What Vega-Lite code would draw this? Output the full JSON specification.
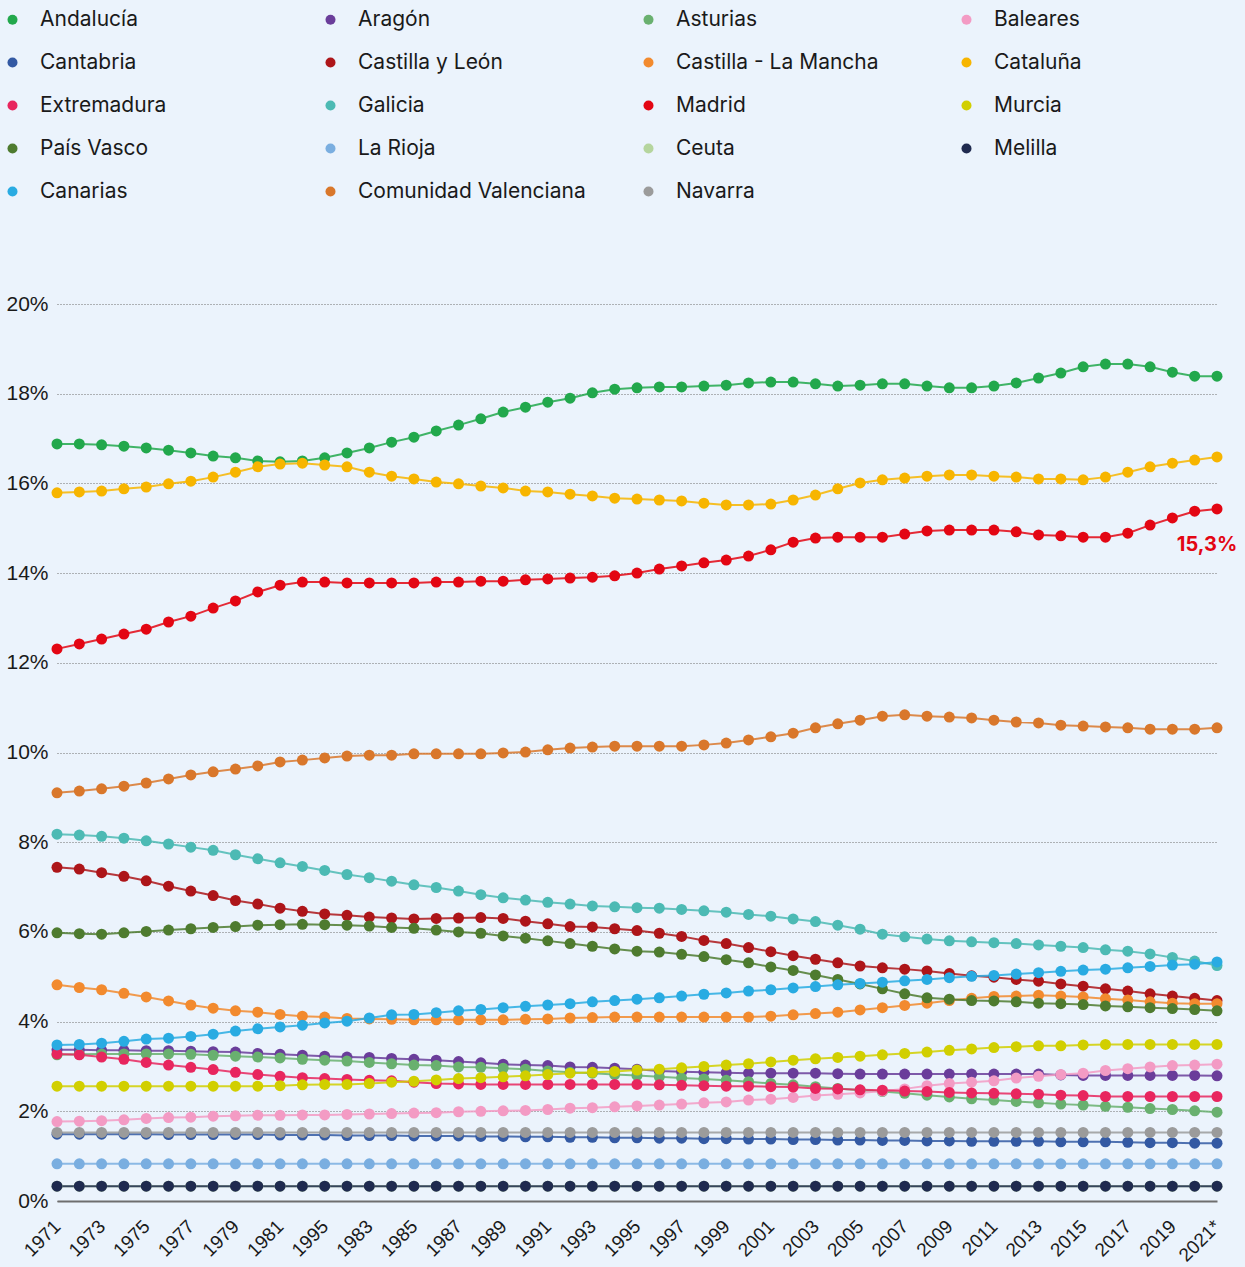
{
"$schema":"https://vega.github.io/schema/vega-lite/v6.json",
"width":1160,"height":897,
"autosize":{"type":"none"},
"padding":{"left":57,"top":304,"right":28,"bottom":66},
"background":"#EBF3FC",
"config":{"view":{"stroke":null},"font":"Inter"},
"datasets":{"share":[
{"region":"Andalucía","year":"1971","pct":16.88},{"region":"Andalucía","year":"1972","pct":16.88},{"region":"Andalucía","year":"1973","pct":16.86},{"region":"Andalucía","year":"1974","pct":16.83},{"region":"Andalucía","year":"1975","pct":16.79},{"region":"Andalucía","year":"1976","pct":16.74},{"region":"Andalucía","year":"1977","pct":16.68},{"region":"Andalucía","year":"1978","pct":16.61},{"region":"Andalucía","year":"1979","pct":16.57},{"region":"Andalucía","year":"1980","pct":16.50},{"region":"Andalucía","year":"1981","pct":16.48},{"region":"Andalucía","year":"1981b","pct":16.50},{"region":"Andalucía","year":"1995b","pct":16.57},{"region":"Andalucía","year":"1982","pct":16.68},{"region":"Andalucía","year":"1983","pct":16.79},{"region":"Andalucía","year":"1984","pct":16.92},{"region":"Andalucía","year":"1985","pct":17.03},{"region":"Andalucía","year":"1986","pct":17.17},{"region":"Andalucía","year":"1987","pct":17.30},{"region":"Andalucía","year":"1988","pct":17.44},{"region":"Andalucía","year":"1989","pct":17.59},{"region":"Andalucía","year":"1990","pct":17.70},{"region":"Andalucía","year":"1991","pct":17.81},{"region":"Andalucía","year":"1992","pct":17.90},{"region":"Andalucía","year":"1993","pct":18.02},{"region":"Andalucía","year":"1994","pct":18.10},{"region":"Andalucía","year":"1995","pct":18.13},{"region":"Andalucía","year":"1996","pct":18.15},{"region":"Andalucía","year":"1997","pct":18.15},{"region":"Andalucía","year":"1998","pct":18.17},{"region":"Andalucía","year":"1999","pct":18.19},{"region":"Andalucía","year":"2000","pct":18.24},{"region":"Andalucía","year":"2001","pct":18.26},{"region":"Andalucía","year":"2002","pct":18.26},{"region":"Andalucía","year":"2003","pct":18.22},{"region":"Andalucía","year":"2004","pct":18.17},{"region":"Andalucía","year":"2005","pct":18.19},{"region":"Andalucía","year":"2006","pct":18.22},{"region":"Andalucía","year":"2007","pct":18.22},{"region":"Andalucía","year":"2008","pct":18.17},{"region":"Andalucía","year":"2009","pct":18.13},{"region":"Andalucía","year":"2010","pct":18.13},{"region":"Andalucía","year":"2011","pct":18.17},{"region":"Andalucía","year":"2012","pct":18.24},{"region":"Andalucía","year":"2013","pct":18.35},{"region":"Andalucía","year":"2014","pct":18.46},{"region":"Andalucía","year":"2015","pct":18.60},{"region":"Andalucía","year":"2016","pct":18.66},{"region":"Andalucía","year":"2017","pct":18.66},{"region":"Andalucía","year":"2018","pct":18.60},{"region":"Andalucía","year":"2019","pct":18.48},{"region":"Andalucía","year":"2020","pct":18.39},{"region":"Andalucía","year":"2021*","pct":18.39},
{"region":"Aragón","year":"1971","pct":3.37},{"region":"Aragón","year":"1972","pct":3.37},{"region":"Aragón","year":"1973","pct":3.36},{"region":"Aragón","year":"1974","pct":3.36},{"region":"Aragón","year":"1975","pct":3.35},{"region":"Aragón","year":"1976","pct":3.35},{"region":"Aragón","year":"1977","pct":3.34},{"region":"Aragón","year":"1978","pct":3.33},{"region":"Aragón","year":"1979","pct":3.32},{"region":"Aragón","year":"1980","pct":3.29},{"region":"Aragón","year":"1981","pct":3.27},{"region":"Aragón","year":"1981b","pct":3.25},{"region":"Aragón","year":"1995b","pct":3.23},{"region":"Aragón","year":"1982","pct":3.21},{"region":"Aragón","year":"1983","pct":3.20},{"region":"Aragón","year":"1984","pct":3.18},{"region":"Aragón","year":"1985","pct":3.16},{"region":"Aragón","year":"1986","pct":3.14},{"region":"Aragón","year":"1987","pct":3.11},{"region":"Aragón","year":"1988","pct":3.08},{"region":"Aragón","year":"1989","pct":3.05},{"region":"Aragón","year":"1990","pct":3.03},{"region":"Aragón","year":"1991","pct":3.02},{"region":"Aragón","year":"1992","pct":2.99},{"region":"Aragón","year":"1993","pct":2.98},{"region":"Aragón","year":"1994","pct":2.96},{"region":"Aragón","year":"1995","pct":2.94},{"region":"Aragón","year":"1996","pct":2.90},{"region":"Aragón","year":"1997","pct":2.88},{"region":"Aragón","year":"1998","pct":2.87},{"region":"Aragón","year":"1999","pct":2.86},{"region":"Aragón","year":"2000","pct":2.85},{"region":"Aragón","year":"2001","pct":2.85},{"region":"Aragón","year":"2002","pct":2.85},{"region":"Aragón","year":"2003","pct":2.85},{"region":"Aragón","year":"2004","pct":2.84},{"region":"Aragón","year":"2005","pct":2.83},{"region":"Aragón","year":"2006","pct":2.83},{"region":"Aragón","year":"2007","pct":2.83},{"region":"Aragón","year":"2008","pct":2.83},{"region":"Aragón","year":"2009","pct":2.83},{"region":"Aragón","year":"2010","pct":2.83},{"region":"Aragón","year":"2011","pct":2.83},{"region":"Aragón","year":"2012","pct":2.83},{"region":"Aragón","year":"2013","pct":2.83},{"region":"Aragón","year":"2014","pct":2.81},{"region":"Aragón","year":"2015","pct":2.80},{"region":"Aragón","year":"2016","pct":2.80},{"region":"Aragón","year":"2017","pct":2.80},{"region":"Aragón","year":"2018","pct":2.80},{"region":"Aragón","year":"2019","pct":2.80},{"region":"Aragón","year":"2020","pct":2.80},{"region":"Aragón","year":"2021*","pct":2.79},
{"region":"Asturias","year":"1971","pct":3.26},{"region":"Asturias","year":"1972","pct":3.27},{"region":"Asturias","year":"1973","pct":3.28},{"region":"Asturias","year":"1974","pct":3.28},{"region":"Asturias","year":"1975","pct":3.28},{"region":"Asturias","year":"1976","pct":3.28},{"region":"Asturias","year":"1977","pct":3.27},{"region":"Asturias","year":"1978","pct":3.25},{"region":"Asturias","year":"1979","pct":3.23},{"region":"Asturias","year":"1980","pct":3.21},{"region":"Asturias","year":"1981","pct":3.19},{"region":"Asturias","year":"1981b","pct":3.16},{"region":"Asturias","year":"1995b","pct":3.14},{"region":"Asturias","year":"1982","pct":3.12},{"region":"Asturias","year":"1983","pct":3.09},{"region":"Asturias","year":"1984","pct":3.06},{"region":"Asturias","year":"1985","pct":3.03},{"region":"Asturias","year":"1986","pct":3.02},{"region":"Asturias","year":"1987","pct":2.99},{"region":"Asturias","year":"1988","pct":2.98},{"region":"Asturias","year":"1989","pct":2.96},{"region":"Asturias","year":"1990","pct":2.94},{"region":"Asturias","year":"1991","pct":2.90},{"region":"Asturias","year":"1992","pct":2.87},{"region":"Asturias","year":"1993","pct":2.85},{"region":"Asturias","year":"1994","pct":2.82},{"region":"Asturias","year":"1995","pct":2.80},{"region":"Asturias","year":"1996","pct":2.77},{"region":"Asturias","year":"1997","pct":2.74},{"region":"Asturias","year":"1998","pct":2.72},{"region":"Asturias","year":"1999","pct":2.69},{"region":"Asturias","year":"2000","pct":2.66},{"region":"Asturias","year":"2001","pct":2.62},{"region":"Asturias","year":"2002","pct":2.59},{"region":"Asturias","year":"2003","pct":2.55},{"region":"Asturias","year":"2004","pct":2.51},{"region":"Asturias","year":"2005","pct":2.47},{"region":"Asturias","year":"2006","pct":2.44},{"region":"Asturias","year":"2007","pct":2.40},{"region":"Asturias","year":"2008","pct":2.36},{"region":"Asturias","year":"2009","pct":2.32},{"region":"Asturias","year":"2010","pct":2.28},{"region":"Asturias","year":"2011","pct":2.25},{"region":"Asturias","year":"2012","pct":2.22},{"region":"Asturias","year":"2013","pct":2.19},{"region":"Asturias","year":"2014","pct":2.16},{"region":"Asturias","year":"2015","pct":2.14},{"region":"Asturias","year":"2016","pct":2.11},{"region":"Asturias","year":"2017","pct":2.09},{"region":"Asturias","year":"2018","pct":2.06},{"region":"Asturias","year":"2019","pct":2.04},{"region":"Asturias","year":"2020","pct":2.01},{"region":"Asturias","year":"2021*","pct":1.98},
{"region":"Baleares","year":"1971","pct":1.77},{"region":"Baleares","year":"1972","pct":1.78},{"region":"Baleares","year":"1973","pct":1.79},{"region":"Baleares","year":"1974","pct":1.81},{"region":"Baleares","year":"1975","pct":1.84},{"region":"Baleares","year":"1976","pct":1.86},{"region":"Baleares","year":"1977","pct":1.87},{"region":"Baleares","year":"1978","pct":1.89},{"region":"Baleares","year":"1979","pct":1.90},{"region":"Baleares","year":"1980","pct":1.91},{"region":"Baleares","year":"1981","pct":1.91},{"region":"Baleares","year":"1981b","pct":1.92},{"region":"Baleares","year":"1995b","pct":1.92},{"region":"Baleares","year":"1982","pct":1.93},{"region":"Baleares","year":"1983","pct":1.94},{"region":"Baleares","year":"1984","pct":1.95},{"region":"Baleares","year":"1985","pct":1.96},{"region":"Baleares","year":"1986","pct":1.97},{"region":"Baleares","year":"1987","pct":1.99},{"region":"Baleares","year":"1988","pct":2.00},{"region":"Baleares","year":"1989","pct":2.01},{"region":"Baleares","year":"1990","pct":2.02},{"region":"Baleares","year":"1991","pct":2.04},{"region":"Baleares","year":"1992","pct":2.07},{"region":"Baleares","year":"1993","pct":2.08},{"region":"Baleares","year":"1994","pct":2.10},{"region":"Baleares","year":"1995","pct":2.12},{"region":"Baleares","year":"1996","pct":2.14},{"region":"Baleares","year":"1997","pct":2.16},{"region":"Baleares","year":"1998","pct":2.19},{"region":"Baleares","year":"1999","pct":2.21},{"region":"Baleares","year":"2000","pct":2.25},{"region":"Baleares","year":"2001","pct":2.27},{"region":"Baleares","year":"2002","pct":2.31},{"region":"Baleares","year":"2003","pct":2.35},{"region":"Baleares","year":"2004","pct":2.38},{"region":"Baleares","year":"2005","pct":2.41},{"region":"Baleares","year":"2006","pct":2.45},{"region":"Baleares","year":"2007","pct":2.50},{"region":"Baleares","year":"2008","pct":2.57},{"region":"Baleares","year":"2009","pct":2.62},{"region":"Baleares","year":"2010","pct":2.65},{"region":"Baleares","year":"2011","pct":2.68},{"region":"Baleares","year":"2012","pct":2.74},{"region":"Baleares","year":"2013","pct":2.78},{"region":"Baleares","year":"2014","pct":2.82},{"region":"Baleares","year":"2015","pct":2.85},{"region":"Baleares","year":"2016","pct":2.91},{"region":"Baleares","year":"2017","pct":2.95},{"region":"Baleares","year":"2018","pct":2.99},{"region":"Baleares","year":"2019","pct":3.02},{"region":"Baleares","year":"2020","pct":3.03},{"region":"Baleares","year":"2021*","pct":3.05},
{"region":"Cantabria","year":"1971","pct":1.49},{"region":"Cantabria","year":"1972","pct":1.49},{"region":"Cantabria","year":"1973","pct":1.49},{"region":"Cantabria","year":"1974","pct":1.49},{"region":"Cantabria","year":"1975","pct":1.49},{"region":"Cantabria","year":"1976","pct":1.48},{"region":"Cantabria","year":"1977","pct":1.48},{"region":"Cantabria","year":"1978","pct":1.48},{"region":"Cantabria","year":"1979","pct":1.48},{"region":"Cantabria","year":"1980","pct":1.48},{"region":"Cantabria","year":"1981","pct":1.47},{"region":"Cantabria","year":"1981b","pct":1.47},{"region":"Cantabria","year":"1995b","pct":1.47},{"region":"Cantabria","year":"1982","pct":1.46},{"region":"Cantabria","year":"1983","pct":1.46},{"region":"Cantabria","year":"1984","pct":1.46},{"region":"Cantabria","year":"1985","pct":1.45},{"region":"Cantabria","year":"1986","pct":1.45},{"region":"Cantabria","year":"1987","pct":1.45},{"region":"Cantabria","year":"1988","pct":1.44},{"region":"Cantabria","year":"1989","pct":1.44},{"region":"Cantabria","year":"1990","pct":1.43},{"region":"Cantabria","year":"1991","pct":1.43},{"region":"Cantabria","year":"1992","pct":1.42},{"region":"Cantabria","year":"1993","pct":1.42},{"region":"Cantabria","year":"1994","pct":1.41},{"region":"Cantabria","year":"1995","pct":1.41},{"region":"Cantabria","year":"1996","pct":1.40},{"region":"Cantabria","year":"1997","pct":1.40},{"region":"Cantabria","year":"1998","pct":1.39},{"region":"Cantabria","year":"1999","pct":1.39},{"region":"Cantabria","year":"2000","pct":1.38},{"region":"Cantabria","year":"2001","pct":1.38},{"region":"Cantabria","year":"2002","pct":1.37},{"region":"Cantabria","year":"2003","pct":1.37},{"region":"Cantabria","year":"2004","pct":1.36},{"region":"Cantabria","year":"2005","pct":1.36},{"region":"Cantabria","year":"2006","pct":1.35},{"region":"Cantabria","year":"2007","pct":1.35},{"region":"Cantabria","year":"2008","pct":1.34},{"region":"Cantabria","year":"2009","pct":1.34},{"region":"Cantabria","year":"2010","pct":1.33},{"region":"Cantabria","year":"2011","pct":1.33},{"region":"Cantabria","year":"2012","pct":1.33},{"region":"Cantabria","year":"2013","pct":1.33},{"region":"Cantabria","year":"2014","pct":1.32},{"region":"Cantabria","year":"2015","pct":1.32},{"region":"Cantabria","year":"2016","pct":1.32},{"region":"Cantabria","year":"2017","pct":1.31},{"region":"Cantabria","year":"2018","pct":1.30},{"region":"Cantabria","year":"2019","pct":1.30},{"region":"Cantabria","year":"2020","pct":1.29},{"region":"Cantabria","year":"2021*","pct":1.29},
{"region":"Castilla y León","year":"1971","pct":7.44},{"region":"Castilla y León","year":"1972","pct":7.40},{"region":"Castilla y León","year":"1973","pct":7.32},{"region":"Castilla y León","year":"1974","pct":7.24},{"region":"Castilla y León","year":"1975","pct":7.14},{"region":"Castilla y León","year":"1976","pct":7.02},{"region":"Castilla y León","year":"1977","pct":6.91},{"region":"Castilla y León","year":"1978","pct":6.81},{"region":"Castilla y León","year":"1979","pct":6.70},{"region":"Castilla y León","year":"1980","pct":6.62},{"region":"Castilla y León","year":"1981","pct":6.53},{"region":"Castilla y León","year":"1981b","pct":6.46},{"region":"Castilla y León","year":"1995b","pct":6.40},{"region":"Castilla y León","year":"1982","pct":6.37},{"region":"Castilla y León","year":"1983","pct":6.33},{"region":"Castilla y León","year":"1984","pct":6.31},{"region":"Castilla y León","year":"1985","pct":6.29},{"region":"Castilla y León","year":"1986","pct":6.30},{"region":"Castilla y León","year":"1987","pct":6.31},{"region":"Castilla y León","year":"1988","pct":6.32},{"region":"Castilla y León","year":"1989","pct":6.30},{"region":"Castilla y León","year":"1990","pct":6.24},{"region":"Castilla y León","year":"1991","pct":6.18},{"region":"Castilla y León","year":"1992","pct":6.12},{"region":"Castilla y León","year":"1993","pct":6.11},{"region":"Castilla y León","year":"1994","pct":6.07},{"region":"Castilla y León","year":"1995","pct":6.03},{"region":"Castilla y León","year":"1996","pct":5.97},{"region":"Castilla y León","year":"1997","pct":5.90},{"region":"Castilla y León","year":"1998","pct":5.81},{"region":"Castilla y León","year":"1999","pct":5.74},{"region":"Castilla y León","year":"2000","pct":5.65},{"region":"Castilla y León","year":"2001","pct":5.56},{"region":"Castilla y León","year":"2002","pct":5.47},{"region":"Castilla y León","year":"2003","pct":5.39},{"region":"Castilla y León","year":"2004","pct":5.31},{"region":"Castilla y León","year":"2005","pct":5.24},{"region":"Castilla y León","year":"2006","pct":5.20},{"region":"Castilla y León","year":"2007","pct":5.17},{"region":"Castilla y León","year":"2008","pct":5.13},{"region":"Castilla y León","year":"2009","pct":5.07},{"region":"Castilla y León","year":"2010","pct":5.02},{"region":"Castilla y León","year":"2011","pct":4.99},{"region":"Castilla y León","year":"2012","pct":4.94},{"region":"Castilla y León","year":"2013","pct":4.90},{"region":"Castilla y León","year":"2014","pct":4.84},{"region":"Castilla y León","year":"2015","pct":4.79},{"region":"Castilla y León","year":"2016","pct":4.73},{"region":"Castilla y León","year":"2017","pct":4.68},{"region":"Castilla y León","year":"2018","pct":4.62},{"region":"Castilla y León","year":"2019","pct":4.57},{"region":"Castilla y León","year":"2020","pct":4.52},{"region":"Castilla y León","year":"2021*","pct":4.47},
{"region":"Castilla - La Mancha","year":"1971","pct":4.82},{"region":"Castilla - La Mancha","year":"1972","pct":4.76},{"region":"Castilla - La Mancha","year":"1973","pct":4.71},{"region":"Castilla - La Mancha","year":"1974","pct":4.63},{"region":"Castilla - La Mancha","year":"1975","pct":4.55},{"region":"Castilla - La Mancha","year":"1976","pct":4.46},{"region":"Castilla - La Mancha","year":"1977","pct":4.37},{"region":"Castilla - La Mancha","year":"1978","pct":4.30},{"region":"Castilla - La Mancha","year":"1979","pct":4.24},{"region":"Castilla - La Mancha","year":"1980","pct":4.21},{"region":"Castilla - La Mancha","year":"1981","pct":4.16},{"region":"Castilla - La Mancha","year":"1981b","pct":4.12},{"region":"Castilla - La Mancha","year":"1995b","pct":4.10},{"region":"Castilla - La Mancha","year":"1982","pct":4.07},{"region":"Castilla - La Mancha","year":"1983","pct":4.06},{"region":"Castilla - La Mancha","year":"1984","pct":4.05},{"region":"Castilla - La Mancha","year":"1985","pct":4.04},{"region":"Castilla - La Mancha","year":"1986","pct":4.04},{"region":"Castilla - La Mancha","year":"1987","pct":4.04},{"region":"Castilla - La Mancha","year":"1988","pct":4.04},{"region":"Castilla - La Mancha","year":"1989","pct":4.04},{"region":"Castilla - La Mancha","year":"1990","pct":4.05},{"region":"Castilla - La Mancha","year":"1991","pct":4.06},{"region":"Castilla - La Mancha","year":"1992","pct":4.08},{"region":"Castilla - La Mancha","year":"1993","pct":4.09},{"region":"Castilla - La Mancha","year":"1994","pct":4.10},{"region":"Castilla - La Mancha","year":"1995","pct":4.10},{"region":"Castilla - La Mancha","year":"1996","pct":4.10},{"region":"Castilla - La Mancha","year":"1997","pct":4.10},{"region":"Castilla - La Mancha","year":"1998","pct":4.10},{"region":"Castilla - La Mancha","year":"1999","pct":4.10},{"region":"Castilla - La Mancha","year":"2000","pct":4.10},{"region":"Castilla - La Mancha","year":"2001","pct":4.12},{"region":"Castilla - La Mancha","year":"2002","pct":4.15},{"region":"Castilla - La Mancha","year":"2003","pct":4.18},{"region":"Castilla - La Mancha","year":"2004","pct":4.21},{"region":"Castilla - La Mancha","year":"2005","pct":4.26},{"region":"Castilla - La Mancha","year":"2006","pct":4.31},{"region":"Castilla - La Mancha","year":"2007","pct":4.36},{"region":"Castilla - La Mancha","year":"2008","pct":4.41},{"region":"Castilla - La Mancha","year":"2009","pct":4.47},{"region":"Castilla - La Mancha","year":"2010","pct":4.52},{"region":"Castilla - La Mancha","year":"2011","pct":4.56},{"region":"Castilla - La Mancha","year":"2012","pct":4.57},{"region":"Castilla - La Mancha","year":"2013","pct":4.59},{"region":"Castilla - La Mancha","year":"2014","pct":4.57},{"region":"Castilla - La Mancha","year":"2015","pct":4.55},{"region":"Castilla - La Mancha","year":"2016","pct":4.51},{"region":"Castilla - La Mancha","year":"2017","pct":4.48},{"region":"Castilla - La Mancha","year":"2018","pct":4.44},{"region":"Castilla - La Mancha","year":"2019","pct":4.41},{"region":"Castilla - La Mancha","year":"2020","pct":4.40},{"region":"Castilla - La Mancha","year":"2021*","pct":4.40},
{"region":"Cataluña","year":"1971","pct":15.79},{"region":"Cataluña","year":"1972","pct":15.81},{"region":"Cataluña","year":"1973","pct":15.83},{"region":"Cataluña","year":"1974","pct":15.88},{"region":"Cataluña","year":"1975","pct":15.92},{"region":"Cataluña","year":"1976","pct":15.99},{"region":"Cataluña","year":"1977","pct":16.05},{"region":"Cataluña","year":"1978","pct":16.14},{"region":"Cataluña","year":"1979","pct":16.25},{"region":"Cataluña","year":"1980","pct":16.37},{"region":"Cataluña","year":"1981","pct":16.43},{"region":"Cataluña","year":"1981b","pct":16.45},{"region":"Cataluña","year":"1995b","pct":16.41},{"region":"Cataluña","year":"1982","pct":16.37},{"region":"Cataluña","year":"1983","pct":16.25},{"region":"Cataluña","year":"1984","pct":16.16},{"region":"Cataluña","year":"1985","pct":16.10},{"region":"Cataluña","year":"1986","pct":16.03},{"region":"Cataluña","year":"1987","pct":15.99},{"region":"Cataluña","year":"1988","pct":15.94},{"region":"Cataluña","year":"1989","pct":15.90},{"region":"Cataluña","year":"1990","pct":15.83},{"region":"Cataluña","year":"1991","pct":15.81},{"region":"Cataluña","year":"1992","pct":15.76},{"region":"Cataluña","year":"1993","pct":15.72},{"region":"Cataluña","year":"1994","pct":15.67},{"region":"Cataluña","year":"1995","pct":15.65},{"region":"Cataluña","year":"1996","pct":15.63},{"region":"Cataluña","year":"1997","pct":15.61},{"region":"Cataluña","year":"1998","pct":15.56},{"region":"Cataluña","year":"1999","pct":15.52},{"region":"Cataluña","year":"2000","pct":15.52},{"region":"Cataluña","year":"2001","pct":15.54},{"region":"Cataluña","year":"2002","pct":15.63},{"region":"Cataluña","year":"2003","pct":15.74},{"region":"Cataluña","year":"2004","pct":15.88},{"region":"Cataluña","year":"2005","pct":16.01},{"region":"Cataluña","year":"2006","pct":16.08},{"region":"Cataluña","year":"2007","pct":16.12},{"region":"Cataluña","year":"2008","pct":16.16},{"region":"Cataluña","year":"2009","pct":16.19},{"region":"Cataluña","year":"2010","pct":16.19},{"region":"Cataluña","year":"2011","pct":16.16},{"region":"Cataluña","year":"2012","pct":16.14},{"region":"Cataluña","year":"2013","pct":16.10},{"region":"Cataluña","year":"2014","pct":16.10},{"region":"Cataluña","year":"2015","pct":16.08},{"region":"Cataluña","year":"2016","pct":16.14},{"region":"Cataluña","year":"2017","pct":16.25},{"region":"Cataluña","year":"2018","pct":16.37},{"region":"Cataluña","year":"2019","pct":16.45},{"region":"Cataluña","year":"2020","pct":16.52},{"region":"Cataluña","year":"2021*","pct":16.59},
{"region":"Extremadura","year":"1971","pct":3.28},{"region":"Extremadura","year":"1972","pct":3.26},{"region":"Extremadura","year":"1973","pct":3.21},{"region":"Extremadura","year":"1974","pct":3.16},{"region":"Extremadura","year":"1975","pct":3.09},{"region":"Extremadura","year":"1976","pct":3.03},{"region":"Extremadura","year":"1977","pct":2.98},{"region":"Extremadura","year":"1978","pct":2.93},{"region":"Extremadura","year":"1979","pct":2.87},{"region":"Extremadura","year":"1980","pct":2.82},{"region":"Extremadura","year":"1981","pct":2.78},{"region":"Extremadura","year":"1981b","pct":2.75},{"region":"Extremadura","year":"1995b","pct":2.73},{"region":"Extremadura","year":"1982","pct":2.71},{"region":"Extremadura","year":"1983","pct":2.69},{"region":"Extremadura","year":"1984","pct":2.68},{"region":"Extremadura","year":"1985","pct":2.65},{"region":"Extremadura","year":"1986","pct":2.62},{"region":"Extremadura","year":"1987","pct":2.61},{"region":"Extremadura","year":"1988","pct":2.60},{"region":"Extremadura","year":"1989","pct":2.60},{"region":"Extremadura","year":"1990","pct":2.60},{"region":"Extremadura","year":"1991","pct":2.60},{"region":"Extremadura","year":"1992","pct":2.60},{"region":"Extremadura","year":"1993","pct":2.60},{"region":"Extremadura","year":"1994","pct":2.60},{"region":"Extremadura","year":"1995","pct":2.60},{"region":"Extremadura","year":"1996","pct":2.59},{"region":"Extremadura","year":"1997","pct":2.58},{"region":"Extremadura","year":"1998","pct":2.57},{"region":"Extremadura","year":"1999","pct":2.56},{"region":"Extremadura","year":"2000","pct":2.56},{"region":"Extremadura","year":"2001","pct":2.55},{"region":"Extremadura","year":"2002","pct":2.54},{"region":"Extremadura","year":"2003","pct":2.51},{"region":"Extremadura","year":"2004","pct":2.50},{"region":"Extremadura","year":"2005","pct":2.48},{"region":"Extremadura","year":"2006","pct":2.47},{"region":"Extremadura","year":"2007","pct":2.45},{"region":"Extremadura","year":"2008","pct":2.44},{"region":"Extremadura","year":"2009","pct":2.42},{"region":"Extremadura","year":"2010","pct":2.41},{"region":"Extremadura","year":"2011","pct":2.40},{"region":"Extremadura","year":"2012","pct":2.39},{"region":"Extremadura","year":"2013","pct":2.38},{"region":"Extremadura","year":"2014","pct":2.36},{"region":"Extremadura","year":"2015","pct":2.35},{"region":"Extremadura","year":"2016","pct":2.33},{"region":"Extremadura","year":"2017","pct":2.33},{"region":"Extremadura","year":"2018","pct":2.33},{"region":"Extremadura","year":"2019","pct":2.33},{"region":"Extremadura","year":"2020","pct":2.33},{"region":"Extremadura","year":"2021*","pct":2.33},
{"region":"Galicia","year":"1971","pct":8.18},{"region":"Galicia","year":"1972","pct":8.16},{"region":"Galicia","year":"1973","pct":8.13},{"region":"Galicia","year":"1974","pct":8.09},{"region":"Galicia","year":"1975","pct":8.03},{"region":"Galicia","year":"1976","pct":7.96},{"region":"Galicia","year":"1977","pct":7.89},{"region":"Galicia","year":"1978","pct":7.82},{"region":"Galicia","year":"1979","pct":7.72},{"region":"Galicia","year":"1980","pct":7.63},{"region":"Galicia","year":"1981","pct":7.54},{"region":"Galicia","year":"1981b","pct":7.46},{"region":"Galicia","year":"1995b","pct":7.37},{"region":"Galicia","year":"1982","pct":7.28},{"region":"Galicia","year":"1983","pct":7.21},{"region":"Galicia","year":"1984","pct":7.13},{"region":"Galicia","year":"1985","pct":7.05},{"region":"Galicia","year":"1986","pct":6.99},{"region":"Galicia","year":"1987","pct":6.91},{"region":"Galicia","year":"1988","pct":6.83},{"region":"Galicia","year":"1989","pct":6.76},{"region":"Galicia","year":"1990","pct":6.71},{"region":"Galicia","year":"1991","pct":6.66},{"region":"Galicia","year":"1992","pct":6.62},{"region":"Galicia","year":"1993","pct":6.58},{"region":"Galicia","year":"1994","pct":6.56},{"region":"Galicia","year":"1995","pct":6.54},{"region":"Galicia","year":"1996","pct":6.53},{"region":"Galicia","year":"1997","pct":6.50},{"region":"Galicia","year":"1998","pct":6.47},{"region":"Galicia","year":"1999","pct":6.44},{"region":"Galicia","year":"2000","pct":6.39},{"region":"Galicia","year":"2001","pct":6.35},{"region":"Galicia","year":"2002","pct":6.29},{"region":"Galicia","year":"2003","pct":6.23},{"region":"Galicia","year":"2004","pct":6.15},{"region":"Galicia","year":"2005","pct":6.06},{"region":"Galicia","year":"2006","pct":5.95},{"region":"Galicia","year":"2007","pct":5.89},{"region":"Galicia","year":"2008","pct":5.84},{"region":"Galicia","year":"2009","pct":5.80},{"region":"Galicia","year":"2010","pct":5.78},{"region":"Galicia","year":"2011","pct":5.76},{"region":"Galicia","year":"2012","pct":5.74},{"region":"Galicia","year":"2013","pct":5.71},{"region":"Galicia","year":"2014","pct":5.68},{"region":"Galicia","year":"2015","pct":5.65},{"region":"Galicia","year":"2016","pct":5.60},{"region":"Galicia","year":"2017","pct":5.57},{"region":"Galicia","year":"2018","pct":5.51},{"region":"Galicia","year":"2019","pct":5.43},{"region":"Galicia","year":"2020","pct":5.35},{"region":"Galicia","year":"2021*","pct":5.25},
{"region":"Madrid","year":"1971","pct":12.31},{"region":"Madrid","year":"1972","pct":12.42},{"region":"Madrid","year":"1973","pct":12.53},{"region":"Madrid","year":"1974","pct":12.64},{"region":"Madrid","year":"1975","pct":12.75},{"region":"Madrid","year":"1976","pct":12.91},{"region":"Madrid","year":"1977","pct":13.04},{"region":"Madrid","year":"1978","pct":13.22},{"region":"Madrid","year":"1979","pct":13.38},{"region":"Madrid","year":"1980","pct":13.58},{"region":"Madrid","year":"1981","pct":13.73},{"region":"Madrid","year":"1981b","pct":13.80},{"region":"Madrid","year":"1995b","pct":13.80},{"region":"Madrid","year":"1982","pct":13.78},{"region":"Madrid","year":"1983","pct":13.78},{"region":"Madrid","year":"1984","pct":13.78},{"region":"Madrid","year":"1985","pct":13.78},{"region":"Madrid","year":"1986","pct":13.80},{"region":"Madrid","year":"1987","pct":13.80},{"region":"Madrid","year":"1988","pct":13.82},{"region":"Madrid","year":"1989","pct":13.82},{"region":"Madrid","year":"1990","pct":13.85},{"region":"Madrid","year":"1991","pct":13.87},{"region":"Madrid","year":"1992","pct":13.89},{"region":"Madrid","year":"1993","pct":13.91},{"region":"Madrid","year":"1994","pct":13.94},{"region":"Madrid","year":"1995","pct":14.00},{"region":"Madrid","year":"1996","pct":14.09},{"region":"Madrid","year":"1997","pct":14.16},{"region":"Madrid","year":"1998","pct":14.23},{"region":"Madrid","year":"1999","pct":14.29},{"region":"Madrid","year":"2000","pct":14.38},{"region":"Madrid","year":"2001","pct":14.52},{"region":"Madrid","year":"2002","pct":14.69},{"region":"Madrid","year":"2003","pct":14.78},{"region":"Madrid","year":"2004","pct":14.80},{"region":"Madrid","year":"2005","pct":14.80},{"region":"Madrid","year":"2006","pct":14.80},{"region":"Madrid","year":"2007","pct":14.87},{"region":"Madrid","year":"2008","pct":14.94},{"region":"Madrid","year":"2009","pct":14.96},{"region":"Madrid","year":"2010","pct":14.96},{"region":"Madrid","year":"2011","pct":14.96},{"region":"Madrid","year":"2012","pct":14.92},{"region":"Madrid","year":"2013","pct":14.85},{"region":"Madrid","year":"2014","pct":14.83},{"region":"Madrid","year":"2015","pct":14.80},{"region":"Madrid","year":"2016","pct":14.80},{"region":"Madrid","year":"2017","pct":14.89},{"region":"Madrid","year":"2018","pct":15.07},{"region":"Madrid","year":"2019","pct":15.23},{"region":"Madrid","year":"2020","pct":15.38},{"region":"Madrid","year":"2021*","pct":15.43},
{"region":"Murcia","year":"1971","pct":2.56},{"region":"Murcia","year":"1972","pct":2.56},{"region":"Murcia","year":"1973","pct":2.56},{"region":"Murcia","year":"1974","pct":2.56},{"region":"Murcia","year":"1975","pct":2.56},{"region":"Murcia","year":"1976","pct":2.56},{"region":"Murcia","year":"1977","pct":2.56},{"region":"Murcia","year":"1978","pct":2.56},{"region":"Murcia","year":"1979","pct":2.56},{"region":"Murcia","year":"1980","pct":2.56},{"region":"Murcia","year":"1981","pct":2.57},{"region":"Murcia","year":"1981b","pct":2.59},{"region":"Murcia","year":"1995b","pct":2.60},{"region":"Murcia","year":"1982","pct":2.60},{"region":"Murcia","year":"1983","pct":2.62},{"region":"Murcia","year":"1984","pct":2.65},{"region":"Murcia","year":"1985","pct":2.67},{"region":"Murcia","year":"1986","pct":2.70},{"region":"Murcia","year":"1987","pct":2.73},{"region":"Murcia","year":"1988","pct":2.75},{"region":"Murcia","year":"1989","pct":2.77},{"region":"Murcia","year":"1990","pct":2.79},{"region":"Murcia","year":"1991","pct":2.82},{"region":"Murcia","year":"1992","pct":2.85},{"region":"Murcia","year":"1993","pct":2.87},{"region":"Murcia","year":"1994","pct":2.89},{"region":"Murcia","year":"1995","pct":2.92},{"region":"Murcia","year":"1996","pct":2.94},{"region":"Murcia","year":"1997","pct":2.97},{"region":"Murcia","year":"1998","pct":3.00},{"region":"Murcia","year":"1999","pct":3.03},{"region":"Murcia","year":"2000","pct":3.06},{"region":"Murcia","year":"2001","pct":3.10},{"region":"Murcia","year":"2002","pct":3.14},{"region":"Murcia","year":"2003","pct":3.17},{"region":"Murcia","year":"2004","pct":3.20},{"region":"Murcia","year":"2005","pct":3.23},{"region":"Murcia","year":"2006","pct":3.26},{"region":"Murcia","year":"2007","pct":3.29},{"region":"Murcia","year":"2008","pct":3.32},{"region":"Murcia","year":"2009","pct":3.36},{"region":"Murcia","year":"2010","pct":3.39},{"region":"Murcia","year":"2011","pct":3.42},{"region":"Murcia","year":"2012","pct":3.44},{"region":"Murcia","year":"2013","pct":3.46},{"region":"Murcia","year":"2014","pct":3.46},{"region":"Murcia","year":"2015","pct":3.48},{"region":"Murcia","year":"2016","pct":3.49},{"region":"Murcia","year":"2017","pct":3.49},{"region":"Murcia","year":"2018","pct":3.49},{"region":"Murcia","year":"2019","pct":3.49},{"region":"Murcia","year":"2020","pct":3.49},{"region":"Murcia","year":"2021*","pct":3.49},
{"region":"País Vasco","year":"1971","pct":5.98},{"region":"País Vasco","year":"1972","pct":5.96},{"region":"País Vasco","year":"1973","pct":5.95},{"region":"País Vasco","year":"1974","pct":5.98},{"region":"País Vasco","year":"1975","pct":6.01},{"region":"País Vasco","year":"1976","pct":6.04},{"region":"País Vasco","year":"1977","pct":6.07},{"region":"País Vasco","year":"1978","pct":6.10},{"region":"País Vasco","year":"1979","pct":6.12},{"region":"País Vasco","year":"1980","pct":6.15},{"region":"País Vasco","year":"1981","pct":6.16},{"region":"País Vasco","year":"1981b","pct":6.17},{"region":"País Vasco","year":"1995b","pct":6.16},{"region":"País Vasco","year":"1982","pct":6.15},{"region":"País Vasco","year":"1983","pct":6.13},{"region":"País Vasco","year":"1984","pct":6.10},{"region":"País Vasco","year":"1985","pct":6.08},{"region":"País Vasco","year":"1986","pct":6.04},{"region":"País Vasco","year":"1987","pct":6.00},{"region":"País Vasco","year":"1988","pct":5.97},{"region":"País Vasco","year":"1989","pct":5.91},{"region":"País Vasco","year":"1990","pct":5.86},{"region":"País Vasco","year":"1991","pct":5.80},{"region":"País Vasco","year":"1992","pct":5.74},{"region":"País Vasco","year":"1993","pct":5.68},{"region":"País Vasco","year":"1994","pct":5.62},{"region":"País Vasco","year":"1995","pct":5.57},{"region":"País Vasco","year":"1996","pct":5.55},{"region":"País Vasco","year":"1997","pct":5.50},{"region":"País Vasco","year":"1998","pct":5.45},{"region":"País Vasco","year":"1999","pct":5.38},{"region":"País Vasco","year":"2000","pct":5.31},{"region":"País Vasco","year":"2001","pct":5.22},{"region":"País Vasco","year":"2002","pct":5.14},{"region":"País Vasco","year":"2003","pct":5.04},{"region":"País Vasco","year":"2004","pct":4.94},{"region":"País Vasco","year":"2005","pct":4.84},{"region":"País Vasco","year":"2006","pct":4.73},{"region":"País Vasco","year":"2007","pct":4.62},{"region":"País Vasco","year":"2008","pct":4.53},{"region":"País Vasco","year":"2009","pct":4.50},{"region":"País Vasco","year":"2010","pct":4.47},{"region":"País Vasco","year":"2011","pct":4.46},{"region":"País Vasco","year":"2012","pct":4.44},{"region":"País Vasco","year":"2013","pct":4.41},{"region":"País Vasco","year":"2014","pct":4.40},{"region":"País Vasco","year":"2015","pct":4.38},{"region":"País Vasco","year":"2016","pct":4.35},{"region":"País Vasco","year":"2017","pct":4.33},{"region":"País Vasco","year":"2018","pct":4.31},{"region":"País Vasco","year":"2019","pct":4.29},{"region":"País Vasco","year":"2020","pct":4.27},{"region":"País Vasco","year":"2021*","pct":4.24},
{"region":"La Rioja","year":"1971","pct":0.83},{"region":"La Rioja","year":"1972","pct":0.83},{"region":"La Rioja","year":"1973","pct":0.83},{"region":"La Rioja","year":"1974","pct":0.83},{"region":"La Rioja","year":"1975","pct":0.83},{"region":"La Rioja","year":"1976","pct":0.83},{"region":"La Rioja","year":"1977","pct":0.83},{"region":"La Rioja","year":"1978","pct":0.83},{"region":"La Rioja","year":"1979","pct":0.83},{"region":"La Rioja","year":"1980","pct":0.83},{"region":"La Rioja","year":"1981","pct":0.83},{"region":"La Rioja","year":"1981b","pct":0.83},{"region":"La Rioja","year":"1995b","pct":0.83},{"region":"La Rioja","year":"1982","pct":0.83},{"region":"La Rioja","year":"1983","pct":0.83},{"region":"La Rioja","year":"1984","pct":0.83},{"region":"La Rioja","year":"1985","pct":0.83},{"region":"La Rioja","year":"1986","pct":0.83},{"region":"La Rioja","year":"1987","pct":0.83},{"region":"La Rioja","year":"1988","pct":0.83},{"region":"La Rioja","year":"1989","pct":0.83},{"region":"La Rioja","year":"1990","pct":0.83},{"region":"La Rioja","year":"1991","pct":0.83},{"region":"La Rioja","year":"1992","pct":0.83},{"region":"La Rioja","year":"1993","pct":0.83},{"region":"La Rioja","year":"1994","pct":0.83},{"region":"La Rioja","year":"1995","pct":0.83},{"region":"La Rioja","year":"1996","pct":0.83},{"region":"La Rioja","year":"1997","pct":0.83},{"region":"La Rioja","year":"1998","pct":0.83},{"region":"La Rioja","year":"1999","pct":0.83},{"region":"La Rioja","year":"2000","pct":0.83},{"region":"La Rioja","year":"2001","pct":0.83},{"region":"La Rioja","year":"2002","pct":0.83},{"region":"La Rioja","year":"2003","pct":0.83},{"region":"La Rioja","year":"2004","pct":0.83},{"region":"La Rioja","year":"2005","pct":0.83},{"region":"La Rioja","year":"2006","pct":0.83},{"region":"La Rioja","year":"2007","pct":0.83},{"region":"La Rioja","year":"2008","pct":0.83},{"region":"La Rioja","year":"2009","pct":0.83},{"region":"La Rioja","year":"2010","pct":0.83},{"region":"La Rioja","year":"2011","pct":0.83},{"region":"La Rioja","year":"2012","pct":0.83},{"region":"La Rioja","year":"2013","pct":0.83},{"region":"La Rioja","year":"2014","pct":0.83},{"region":"La Rioja","year":"2015","pct":0.83},{"region":"La Rioja","year":"2016","pct":0.83},{"region":"La Rioja","year":"2017","pct":0.83},{"region":"La Rioja","year":"2018","pct":0.83},{"region":"La Rioja","year":"2019","pct":0.83},{"region":"La Rioja","year":"2020","pct":0.83},{"region":"La Rioja","year":"2021*","pct":0.83},
{"region":"Ceuta","year":"1971","pct":0.33},{"region":"Ceuta","year":"1972","pct":0.33},{"region":"Ceuta","year":"1973","pct":0.33},{"region":"Ceuta","year":"1974","pct":0.33},{"region":"Ceuta","year":"1975","pct":0.33},{"region":"Ceuta","year":"1976","pct":0.33},{"region":"Ceuta","year":"1977","pct":0.33},{"region":"Ceuta","year":"1978","pct":0.33},{"region":"Ceuta","year":"1979","pct":0.33},{"region":"Ceuta","year":"1980","pct":0.33},{"region":"Ceuta","year":"1981","pct":0.33},{"region":"Ceuta","year":"1981b","pct":0.33},{"region":"Ceuta","year":"1995b","pct":0.33},{"region":"Ceuta","year":"1982","pct":0.33},{"region":"Ceuta","year":"1983","pct":0.33},{"region":"Ceuta","year":"1984","pct":0.33},{"region":"Ceuta","year":"1985","pct":0.33},{"region":"Ceuta","year":"1986","pct":0.33},{"region":"Ceuta","year":"1987","pct":0.33},{"region":"Ceuta","year":"1988","pct":0.33},{"region":"Ceuta","year":"1989","pct":0.33},{"region":"Ceuta","year":"1990","pct":0.33},{"region":"Ceuta","year":"1991","pct":0.33},{"region":"Ceuta","year":"1992","pct":0.33},{"region":"Ceuta","year":"1993","pct":0.33},{"region":"Ceuta","year":"1994","pct":0.33},{"region":"Ceuta","year":"1995","pct":0.33},{"region":"Ceuta","year":"1996","pct":0.33},{"region":"Ceuta","year":"1997","pct":0.33},{"region":"Ceuta","year":"1998","pct":0.33},{"region":"Ceuta","year":"1999","pct":0.33},{"region":"Ceuta","year":"2000","pct":0.33},{"region":"Ceuta","year":"2001","pct":0.33},{"region":"Ceuta","year":"2002","pct":0.33},{"region":"Ceuta","year":"2003","pct":0.33},{"region":"Ceuta","year":"2004","pct":0.33},{"region":"Ceuta","year":"2005","pct":0.33},{"region":"Ceuta","year":"2006","pct":0.33},{"region":"Ceuta","year":"2007","pct":0.33},{"region":"Ceuta","year":"2008","pct":0.33},{"region":"Ceuta","year":"2009","pct":0.33},{"region":"Ceuta","year":"2010","pct":0.33},{"region":"Ceuta","year":"2011","pct":0.33},{"region":"Ceuta","year":"2012","pct":0.33},{"region":"Ceuta","year":"2013","pct":0.33},{"region":"Ceuta","year":"2014","pct":0.33},{"region":"Ceuta","year":"2015","pct":0.33},{"region":"Ceuta","year":"2016","pct":0.33},{"region":"Ceuta","year":"2017","pct":0.33},{"region":"Ceuta","year":"2018","pct":0.33},{"region":"Ceuta","year":"2019","pct":0.33},{"region":"Ceuta","year":"2020","pct":0.33},{"region":"Ceuta","year":"2021*","pct":0.33},
{"region":"Melilla","year":"1971","pct":0.33},{"region":"Melilla","year":"1972","pct":0.33},{"region":"Melilla","year":"1973","pct":0.33},{"region":"Melilla","year":"1974","pct":0.33},{"region":"Melilla","year":"1975","pct":0.33},{"region":"Melilla","year":"1976","pct":0.33},{"region":"Melilla","year":"1977","pct":0.33},{"region":"Melilla","year":"1978","pct":0.33},{"region":"Melilla","year":"1979","pct":0.33},{"region":"Melilla","year":"1980","pct":0.33},{"region":"Melilla","year":"1981","pct":0.33},{"region":"Melilla","year":"1981b","pct":0.33},{"region":"Melilla","year":"1995b","pct":0.33},{"region":"Melilla","year":"1982","pct":0.33},{"region":"Melilla","year":"1983","pct":0.33},{"region":"Melilla","year":"1984","pct":0.33},{"region":"Melilla","year":"1985","pct":0.33},{"region":"Melilla","year":"1986","pct":0.33},{"region":"Melilla","year":"1987","pct":0.33},{"region":"Melilla","year":"1988","pct":0.33},{"region":"Melilla","year":"1989","pct":0.33},{"region":"Melilla","year":"1990","pct":0.33},{"region":"Melilla","year":"1991","pct":0.33},{"region":"Melilla","year":"1992","pct":0.33},{"region":"Melilla","year":"1993","pct":0.33},{"region":"Melilla","year":"1994","pct":0.33},{"region":"Melilla","year":"1995","pct":0.33},{"region":"Melilla","year":"1996","pct":0.33},{"region":"Melilla","year":"1997","pct":0.33},{"region":"Melilla","year":"1998","pct":0.33},{"region":"Melilla","year":"1999","pct":0.33},{"region":"Melilla","year":"2000","pct":0.33},{"region":"Melilla","year":"2001","pct":0.33},{"region":"Melilla","year":"2002","pct":0.33},{"region":"Melilla","year":"2003","pct":0.33},{"region":"Melilla","year":"2004","pct":0.33},{"region":"Melilla","year":"2005","pct":0.33},{"region":"Melilla","year":"2006","pct":0.33},{"region":"Melilla","year":"2007","pct":0.33},{"region":"Melilla","year":"2008","pct":0.33},{"region":"Melilla","year":"2009","pct":0.33},{"region":"Melilla","year":"2010","pct":0.33},{"region":"Melilla","year":"2011","pct":0.33},{"region":"Melilla","year":"2012","pct":0.33},{"region":"Melilla","year":"2013","pct":0.33},{"region":"Melilla","year":"2014","pct":0.33},{"region":"Melilla","year":"2015","pct":0.33},{"region":"Melilla","year":"2016","pct":0.33},{"region":"Melilla","year":"2017","pct":0.33},{"region":"Melilla","year":"2018","pct":0.33},{"region":"Melilla","year":"2019","pct":0.33},{"region":"Melilla","year":"2020","pct":0.33},{"region":"Melilla","year":"2021*","pct":0.33},
{"region":"Canarias","year":"1971","pct":3.48},{"region":"Canarias","year":"1972","pct":3.49},{"region":"Canarias","year":"1973","pct":3.52},{"region":"Canarias","year":"1974","pct":3.56},{"region":"Canarias","year":"1975","pct":3.61},{"region":"Canarias","year":"1976","pct":3.63},{"region":"Canarias","year":"1977","pct":3.67},{"region":"Canarias","year":"1978","pct":3.72},{"region":"Canarias","year":"1979","pct":3.79},{"region":"Canarias","year":"1980","pct":3.84},{"region":"Canarias","year":"1981","pct":3.88},{"region":"Canarias","year":"1981b","pct":3.92},{"region":"Canarias","year":"1995b","pct":3.97},{"region":"Canarias","year":"1982","pct":4.01},{"region":"Canarias","year":"1983","pct":4.08},{"region":"Canarias","year":"1984","pct":4.15},{"region":"Canarias","year":"1985","pct":4.16},{"region":"Canarias","year":"1986","pct":4.20},{"region":"Canarias","year":"1987","pct":4.24},{"region":"Canarias","year":"1988","pct":4.27},{"region":"Canarias","year":"1989","pct":4.31},{"region":"Canarias","year":"1990","pct":4.34},{"region":"Canarias","year":"1991","pct":4.37},{"region":"Canarias","year":"1992","pct":4.40},{"region":"Canarias","year":"1993","pct":4.44},{"region":"Canarias","year":"1994","pct":4.47},{"region":"Canarias","year":"1995","pct":4.50},{"region":"Canarias","year":"1996","pct":4.53},{"region":"Canarias","year":"1997","pct":4.57},{"region":"Canarias","year":"1998","pct":4.61},{"region":"Canarias","year":"1999","pct":4.64},{"region":"Canarias","year":"2000","pct":4.68},{"region":"Canarias","year":"2001","pct":4.71},{"region":"Canarias","year":"2002","pct":4.75},{"region":"Canarias","year":"2003","pct":4.78},{"region":"Canarias","year":"2004","pct":4.82},{"region":"Canarias","year":"2005","pct":4.85},{"region":"Canarias","year":"2006","pct":4.88},{"region":"Canarias","year":"2007","pct":4.91},{"region":"Canarias","year":"2008","pct":4.94},{"region":"Canarias","year":"2009","pct":4.98},{"region":"Canarias","year":"2010","pct":5.01},{"region":"Canarias","year":"2011","pct":5.03},{"region":"Canarias","year":"2012","pct":5.06},{"region":"Canarias","year":"2013","pct":5.09},{"region":"Canarias","year":"2014","pct":5.12},{"region":"Canarias","year":"2015","pct":5.15},{"region":"Canarias","year":"2016","pct":5.17},{"region":"Canarias","year":"2017","pct":5.20},{"region":"Canarias","year":"2018","pct":5.23},{"region":"Canarias","year":"2019","pct":5.26},{"region":"Canarias","year":"2020","pct":5.28},{"region":"Canarias","year":"2021*","pct":5.33},
{"region":"Comunidad Valenciana","year":"1971","pct":9.10},{"region":"Comunidad Valenciana","year":"1972","pct":9.14},{"region":"Comunidad Valenciana","year":"1973","pct":9.19},{"region":"Comunidad Valenciana","year":"1974","pct":9.25},{"region":"Comunidad Valenciana","year":"1975","pct":9.32},{"region":"Comunidad Valenciana","year":"1976","pct":9.41},{"region":"Comunidad Valenciana","year":"1977","pct":9.50},{"region":"Comunidad Valenciana","year":"1978","pct":9.57},{"region":"Comunidad Valenciana","year":"1979","pct":9.63},{"region":"Comunidad Valenciana","year":"1980","pct":9.70},{"region":"Comunidad Valenciana","year":"1981","pct":9.79},{"region":"Comunidad Valenciana","year":"1981b","pct":9.83},{"region":"Comunidad Valenciana","year":"1995b","pct":9.88},{"region":"Comunidad Valenciana","year":"1982","pct":9.92},{"region":"Comunidad Valenciana","year":"1983","pct":9.94},{"region":"Comunidad Valenciana","year":"1984","pct":9.94},{"region":"Comunidad Valenciana","year":"1985","pct":9.97},{"region":"Comunidad Valenciana","year":"1986","pct":9.97},{"region":"Comunidad Valenciana","year":"1987","pct":9.97},{"region":"Comunidad Valenciana","year":"1988","pct":9.97},{"region":"Comunidad Valenciana","year":"1989","pct":9.99},{"region":"Comunidad Valenciana","year":"1990","pct":10.01},{"region":"Comunidad Valenciana","year":"1991","pct":10.06},{"region":"Comunidad Valenciana","year":"1992","pct":10.10},{"region":"Comunidad Valenciana","year":"1993","pct":10.12},{"region":"Comunidad Valenciana","year":"1994","pct":10.14},{"region":"Comunidad Valenciana","year":"1995","pct":10.14},{"region":"Comunidad Valenciana","year":"1996","pct":10.14},{"region":"Comunidad Valenciana","year":"1997","pct":10.14},{"region":"Comunidad Valenciana","year":"1998","pct":10.17},{"region":"Comunidad Valenciana","year":"1999","pct":10.21},{"region":"Comunidad Valenciana","year":"2000","pct":10.28},{"region":"Comunidad Valenciana","year":"2001","pct":10.35},{"region":"Comunidad Valenciana","year":"2002","pct":10.43},{"region":"Comunidad Valenciana","year":"2003","pct":10.55},{"region":"Comunidad Valenciana","year":"2004","pct":10.64},{"region":"Comunidad Valenciana","year":"2005","pct":10.72},{"region":"Comunidad Valenciana","year":"2006","pct":10.81},{"region":"Comunidad Valenciana","year":"2007","pct":10.84},{"region":"Comunidad Valenciana","year":"2008","pct":10.81},{"region":"Comunidad Valenciana","year":"2009","pct":10.79},{"region":"Comunidad Valenciana","year":"2010","pct":10.77},{"region":"Comunidad Valenciana","year":"2011","pct":10.72},{"region":"Comunidad Valenciana","year":"2012","pct":10.68},{"region":"Comunidad Valenciana","year":"2013","pct":10.66},{"region":"Comunidad Valenciana","year":"2014","pct":10.61},{"region":"Comunidad Valenciana","year":"2015","pct":10.59},{"region":"Comunidad Valenciana","year":"2016","pct":10.57},{"region":"Comunidad Valenciana","year":"2017","pct":10.55},{"region":"Comunidad Valenciana","year":"2018","pct":10.52},{"region":"Comunidad Valenciana","year":"2019","pct":10.52},{"region":"Comunidad Valenciana","year":"2020","pct":10.52},{"region":"Comunidad Valenciana","year":"2021*","pct":10.55},
{"region":"Navarra","year":"1971","pct":1.53},{"region":"Navarra","year":"1972","pct":1.53},{"region":"Navarra","year":"1973","pct":1.53},{"region":"Navarra","year":"1974","pct":1.53},{"region":"Navarra","year":"1975","pct":1.53},{"region":"Navarra","year":"1976","pct":1.53},{"region":"Navarra","year":"1977","pct":1.53},{"region":"Navarra","year":"1978","pct":1.53},{"region":"Navarra","year":"1979","pct":1.53},{"region":"Navarra","year":"1980","pct":1.53},{"region":"Navarra","year":"1981","pct":1.53},{"region":"Navarra","year":"1981b","pct":1.53},{"region":"Navarra","year":"1995b","pct":1.53},{"region":"Navarra","year":"1982","pct":1.53},{"region":"Navarra","year":"1983","pct":1.53},{"region":"Navarra","year":"1984","pct":1.53},{"region":"Navarra","year":"1985","pct":1.53},{"region":"Navarra","year":"1986","pct":1.53},{"region":"Navarra","year":"1987","pct":1.53},{"region":"Navarra","year":"1988","pct":1.53},{"region":"Navarra","year":"1989","pct":1.53},{"region":"Navarra","year":"1990","pct":1.53},{"region":"Navarra","year":"1991","pct":1.53},{"region":"Navarra","year":"1992","pct":1.53},{"region":"Navarra","year":"1993","pct":1.53},{"region":"Navarra","year":"1994","pct":1.53},{"region":"Navarra","year":"1995","pct":1.53},{"region":"Navarra","year":"1996","pct":1.53},{"region":"Navarra","year":"1997","pct":1.53},{"region":"Navarra","year":"1998","pct":1.53},{"region":"Navarra","year":"1999","pct":1.53},{"region":"Navarra","year":"2000","pct":1.53},{"region":"Navarra","year":"2001","pct":1.53},{"region":"Navarra","year":"2002","pct":1.53},{"region":"Navarra","year":"2003","pct":1.53},{"region":"Navarra","year":"2004","pct":1.53},{"region":"Navarra","year":"2005","pct":1.53},{"region":"Navarra","year":"2006","pct":1.53},{"region":"Navarra","year":"2007","pct":1.53},{"region":"Navarra","year":"2008","pct":1.53},{"region":"Navarra","year":"2009","pct":1.53},{"region":"Navarra","year":"2010","pct":1.53},{"region":"Navarra","year":"2011","pct":1.53},{"region":"Navarra","year":"2012","pct":1.53},{"region":"Navarra","year":"2013","pct":1.53},{"region":"Navarra","year":"2014","pct":1.53},{"region":"Navarra","year":"2015","pct":1.53},{"region":"Navarra","year":"2016","pct":1.53},{"region":"Navarra","year":"2017","pct":1.53},{"region":"Navarra","year":"2018","pct":1.53},{"region":"Navarra","year":"2019","pct":1.53},{"region":"Navarra","year":"2020","pct":1.53},{"region":"Navarra","year":"2021*","pct":1.53}
],
"note":[{"year":"2021*","pct":14.63,"label":"15,3%"}]},
"encoding":{
 "x":{"field":"year","type":"ordinal","title":null,
  "scale":{"type":"point","padding":0,"domain":["1971","1972","1973","1974","1975","1976","1977","1978","1979","1980","1981","1981b","1995b","1982","1983","1984","1985","1986","1987","1988","1989","1990","1991","1992","1993","1994","1995","1996","1997","1998","1999","2000","2001","2002","2003","2004","2005","2006","2007","2008","2009","2010","2011","2012","2013","2014","2015","2016","2017","2018","2019","2020","2021*"]},
  "axis":{"values":["1971","1973","1975","1977","1979","1981","1995b","1983","1985","1987","1989","1991","1993","1995","1997","1999","2001","2003","2005","2007","2009","2011","2013","2015","2017","2019","2021*"],
   "labelExpr":"replace(datum.label,'b','')","labelAngle":-45,"labelAlign":"right","labelBaseline":"middle","labelPadding":22,"labelFont":"Liberation Sans","labelFontSize":19,"labelColor":"#1a1a1a","ticks":false,"grid":false,"domain":true,"domainColor":"#6e6e6e","domainWidth":2}},
 "y":{"field":"pct","type":"quantitative","title":null,"scale":{"domain":[0,20],"nice":false},
  "axis":{"values":[0,2,4,6,8,10,12,14,16,18,20],"labelExpr":"datum.value + '%'","labelFont":"Liberation Sans","labelFontSize":21,"labelColor":"#1a1a1a","labelPadding":9,"ticks":false,"domain":false,"grid":true,"gridDash":[1,2],"gridColor":"#6e6e6e","gridWidth":1}}
},
"layer":[
 {"data":{"name":"share"},"mark":{"type":"line","strokeWidth":2,"opacity":0.85},
  "encoding":{"color":{"field":"region","type":"nominal",
   "scale":{"domain":["Andalucía","Aragón","Asturias","Baleares","Cantabria","Castilla y León","Castilla - La Mancha","Cataluña","Extremadura","Galicia","Madrid","Murcia","País Vasco","La Rioja","Ceuta","Melilla","Canarias","Comunidad Valenciana","Navarra"],
    "range":["#22A84C","#6A3D9A","#69B06F","#F39BC4","#3359A3","#AD1519","#F28A2E","#F7B500","#E8265E","#4CBAB4","#E30613","#D1CF00","#4E7B2F","#7AAEE0","#B5D59E","#1F2A4F","#29ABE2","#D9772B","#9B9B9B"]},
   "legend":{"orient":"none","direction":"horizontal","legendX":-55,"legendY":-295,"columns":4,"gridAlign":"all","columnPadding":52,"rowPadding":21,"symbolType":"circle","symbolSize":100,"symbolStrokeWidth":0,"symbolOpacity":1,"labelFont":"Inter","labelFontSize":21,"labelColor":"#1a1a1a","labelOffset":17,"labelLimit":400,"title":null,"padding":0}}}},
 {"data":{"name":"share"},"mark":{"type":"point","filled":true,"size":121,"opacity":1},
  "encoding":{"color":{"field":"region","type":"nominal"}}},
 {"data":{"name":"note"},"mark":{"type":"text","font":"Inter","fontWeight":"bold","fontSize":20,"color":"#E30613","align":"center","baseline":"middle","dx":-10},
  "encoding":{"text":{"field":"label"}}}
]
}
